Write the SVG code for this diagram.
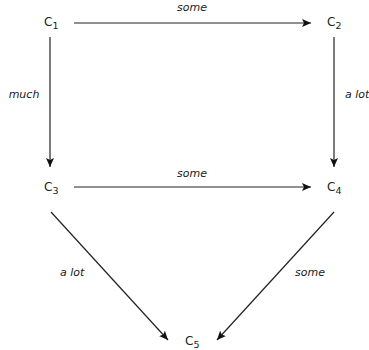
<svg xmlns="http://www.w3.org/2000/svg" width="369" height="350" viewBox="0 0 369 350">
<style>
.n{font-family:"DejaVu Sans",Verdana,sans-serif;font-size:12px;fill:#222}
.s{font-size:9.5px}
.l{font-family:"DejaVu Sans",Verdana,sans-serif;font-size:11px;font-style:italic;fill:#222}
.e{stroke:#222;stroke-width:1.2;fill:none;marker-end:url(#a)}
</style>
<defs>
<marker id="a" markerWidth="10" markerHeight="8" refX="9" refY="4" orient="auto" markerUnits="userSpaceOnUse">
<path d="M0,0 L9,4 L0,8 L2,4 z" fill="#111"/>
</marker>
</defs>
<rect width="369" height="350" fill="#fff"/>
<g id="connectors">
<line class="e" x1="74" y1="23" x2="311" y2="23"/>
<line class="e" x1="50" y1="37" x2="50" y2="167"/>
<line class="e" x1="334" y1="37" x2="334" y2="167"/>
<line class="e" x1="74" y1="187" x2="311" y2="187"/>
<line class="e" x1="51" y1="212" x2="168" y2="340"/>
<line class="e" x1="334" y1="212" x2="217" y2="340"/>
<text class="l" x="192" y="11" text-anchor="middle">some</text>
<text class="l" x="24" y="98" text-anchor="middle">much</text>
<text class="l" x="345" y="98">a lot</text>
<text class="l" x="192" y="177" text-anchor="middle">some</text>
<text class="l" x="60" y="276">a lot</text>
<text class="l" x="295" y="276">some</text>
</g>
<g id="c1"><text class="n" x="44" y="26">C<tspan class="s" dy="3">1</tspan></text></g>
<g id="c2"><text class="n" x="327" y="26">C<tspan class="s" dy="3">2</tspan></text></g>
<g id="c3"><text class="n" x="44" y="191">C<tspan class="s" dy="3">3</tspan></text></g>
<g id="c4"><text class="n" x="327" y="191">C<tspan class="s" dy="3">4</tspan></text></g>
<g id="c5"><text class="n" x="185" y="345">C<tspan class="s" dy="2.5">5</tspan></text></g>
</svg>
